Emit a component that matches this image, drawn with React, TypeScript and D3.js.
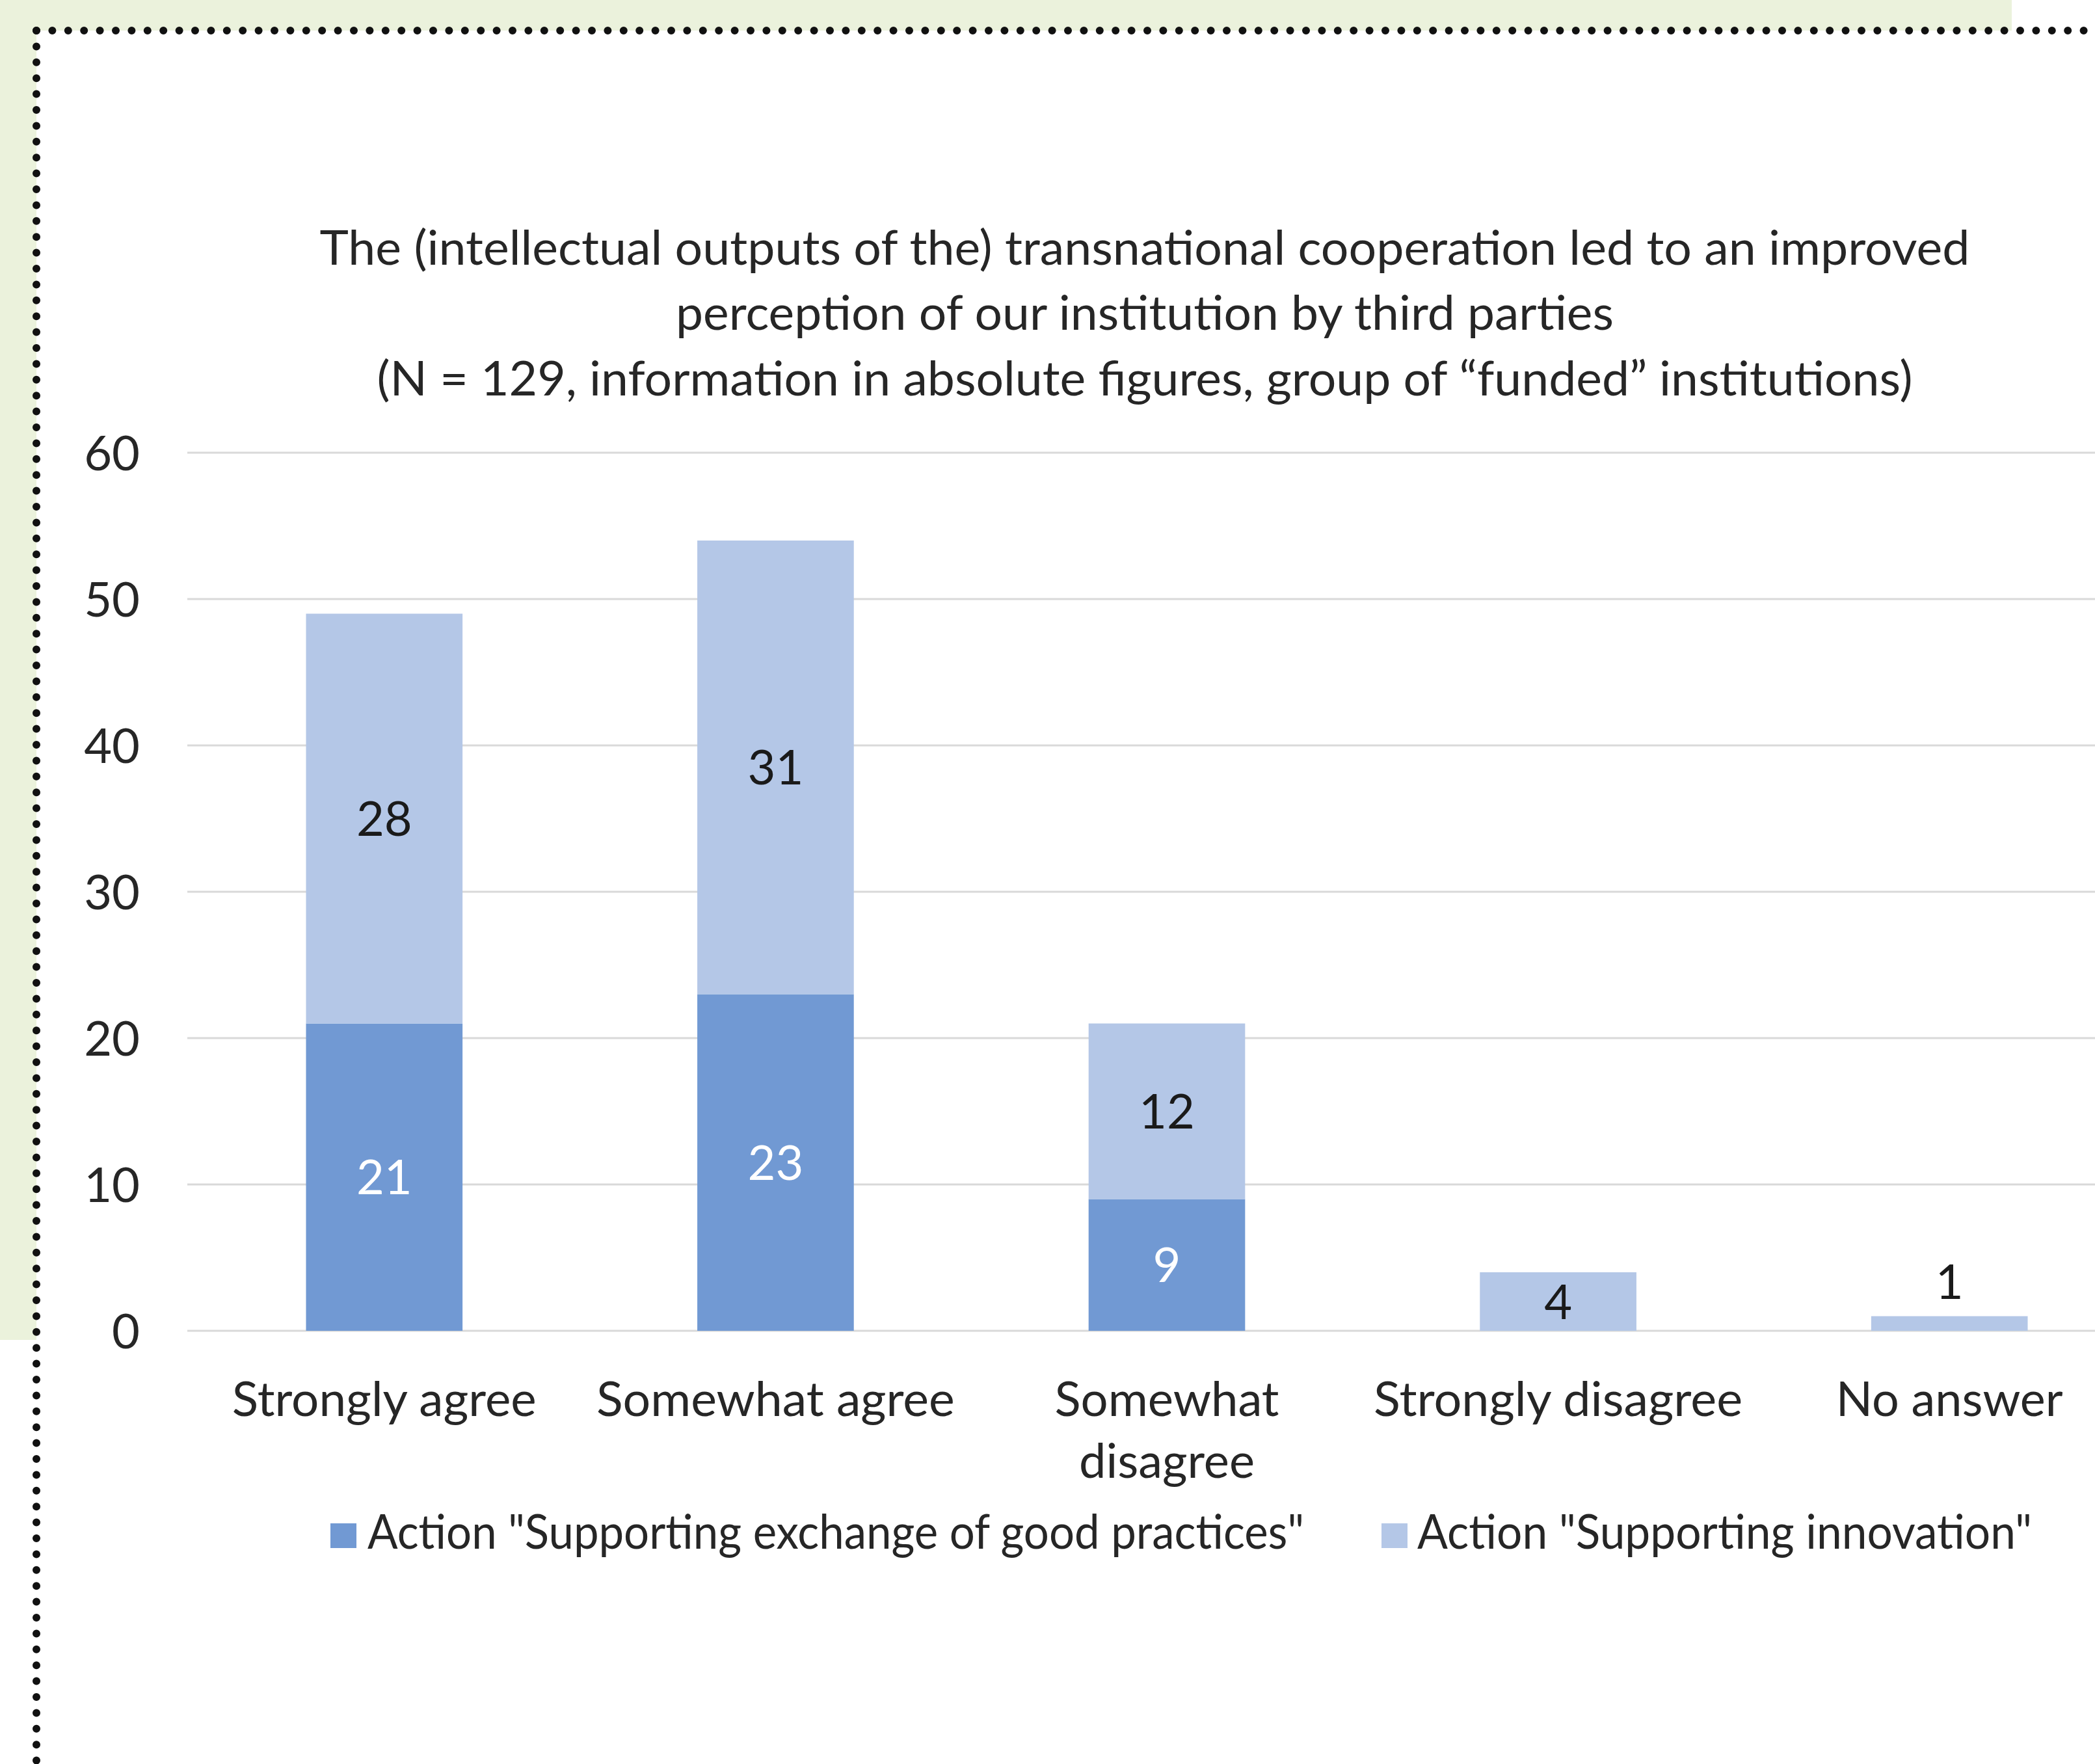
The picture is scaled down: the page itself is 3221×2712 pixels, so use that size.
import React from "react";
import * as d3 from "d3";

// ---------- data ----------
const categories = [
  "Strongly agree",
  "Somewhat agree",
  "Somewhat disagree",
  "Strongly disagree",
  "No answer",
];
const categoryLines = [
  ["Strongly agree"],
  ["Somewhat agree"],
  ["Somewhat", "disagree"],
  ["Strongly disagree"],
  ["No answer"],
];
const seriesKeys = ["exchange", "innovation"];
const seriesNames = [
  'Action "Supporting exchange of good practices"',
  'Action "Supporting innovation"',
];
const exchangeValues = [21, 23, 9, 0, 0];
const innovationValues = [28, 31, 12, 4, 1];
const yTicks = [0, 10, 20, 30, 40, 50, 60];
const titleLines = [
  "The (intellectual outputs of the) transnational cooperation led to an improved",
  "perception of our institution by third parties",
  "(N = 129, information in absolute figures, group of \u201cfunded\u201d institutions)",
];

// ---------- layout / style ----------
const W = 3221;
const H = 2712;
const FONT = "Lato, 'Open Sans', sans-serif";
const FS = 74;
const TEXT = "#262626";
const COLORS = ["#7199D3", "#B4C7E7"];
const LABEL_COLORS = ["#FFFFFF", "#1A1A1A"];
const GREEN = "#EBF2DC";
const GRID = "#D9D9D9";

const titleWidths = [2537, 1442, 2361];
const titleBaselines = [407, 507, 608];
const titleCenter = 1760;
const catLineWidths: Record<string, number> = {
  "Strongly agree": 468,
  "Somewhat agree": 551,
  Somewhat: 345,
  disagree: 270,
  "Strongly disagree": 567,
  "No answer": 349,
};
const legendWidths = [1440, 945];
const legendTextX = [565, 2179];
const legendSwatchX = [508, 2124];

export default function App() {
  const x = d3
    .scaleBand<string>()
    .domain(categories)
    .range([290, 3298])
    .paddingInner(0.6)
    .paddingOuter(0.3);
  const y = d3.scaleLinear().domain([0, 60]).range([2046, 696]);

  const rows = categories.map((c, i) => ({
    category: c,
    exchange: exchangeValues[i],
    innovation: innovationValues[i],
  }));
  const stacked = d3.stack<any>().keys(seriesKeys)(rows);

  const dotted = {
    stroke: "#111",
    strokeWidth: 12,
    strokeLinecap: "round" as const,
    strokeDasharray: "0 24.4",
  };

  return (
    <svg
      width={W}
      height={H}
      viewBox={`0 0 ${W} ${H}`}
      style={{ position: "absolute", left: 0, top: 0, display: "block" }}
      fontFamily={FONT}
    >
      <rect x={0} y={0} width={W} height={H} fill="#FFFFFF" />
      <rect x={0} y={0} width={3093} height={2060} fill={GREEN} />
      <rect x={56} y={47} width={W - 56} height={H - 47} fill="#FFFFFF" />
      <line x1={56} y1={47} x2={W + 20} y2={47} {...dotted} />
      <line x1={56} y1={47} x2={56} y2={H + 20} {...dotted} />

      {/* title */}
      {titleLines.map((t, i) => (
        <text
          key={i}
          x={titleCenter}
          y={titleBaselines[i]}
          textAnchor="middle"
          fontSize={FS}
          fill={TEXT}
          textLength={titleWidths[i]}
          lengthAdjust="spacingAndGlyphs"
        >
          {t}
        </text>
      ))}

      {/* gridlines + y ticks */}
      {yTicks.map((t) => (
        <g key={t}>
          <line
            x1={288}
            x2={W}
            y1={y(t)}
            y2={y(t)}
            stroke={GRID}
            strokeWidth={3}
          />
          <text
            x={215}
            y={y(t) + 26.5}
            textAnchor="end"
            fontSize={FS}
            fill={TEXT}
          >
            {t}
          </text>
        </g>
      ))}

      {/* bars */}
      {stacked.map((s, si) => (
        <g key={s.key}>
          {s.map((d: any, i: number) => {
            const v = d[1] - d[0];
            if (!v) return null;
            const top = y(d[1]);
            const bot = y(d[0]);
            return (
              <rect
                key={i}
                x={x(categories[i])}
                y={top}
                width={x.bandwidth()}
                height={bot - top}
                fill={COLORS[si]}
              />
            );
          })}
        </g>
      ))}

      {/* value labels */}
      {stacked.map((s, si) => (
        <g key={"l" + s.key}>
          {s.map((d: any, i: number) => {
            const v = d[1] - d[0];
            if (!v) return null;
            const top = y(d[1]);
            const bot = y(d[0]);
            const small = bot - top < 60;
            const cx = (x(categories[i]) as number) + x.bandwidth() / 2;
            const by = small ? top - 27 : (top + bot) / 2 + 26.5;
            return (
              <text
                key={i}
                x={cx}
                y={by}
                textAnchor="middle"
                fontSize={FS}
                fill={small ? LABEL_COLORS[1] : LABEL_COLORS[si]}
              >
                {v}
              </text>
            );
          })}
        </g>
      ))}

      {/* category labels */}
      {categories.map((c, i) => {
        const cx = (x(c) as number) + x.bandwidth() / 2;
        return (
          <g key={c}>
            {categoryLines[i].map((ln, li) => (
              <text
                key={li}
                x={cx}
                y={2177 + li * 95}
                textAnchor="middle"
                fontSize={FS}
                fill={TEXT}
                textLength={catLineWidths[ln]}
                lengthAdjust="spacingAndGlyphs"
              >
                {ln}
              </text>
            ))}
          </g>
        );
      })}

      {/* legend */}
      {seriesNames.map((n, i) => (
        <g key={n}>
          <rect
            x={legendSwatchX[i]}
            y={2342}
            width={40}
            height={38}
            fill={COLORS[i]}
          />
          <text
            x={legendTextX[i]}
            y={2381}
            fontSize={FS}
            fill={TEXT}
            textLength={legendWidths[i]}
            lengthAdjust="spacingAndGlyphs"
          >
            {n}
          </text>
        </g>
      ))}
    </svg>
  );
}
